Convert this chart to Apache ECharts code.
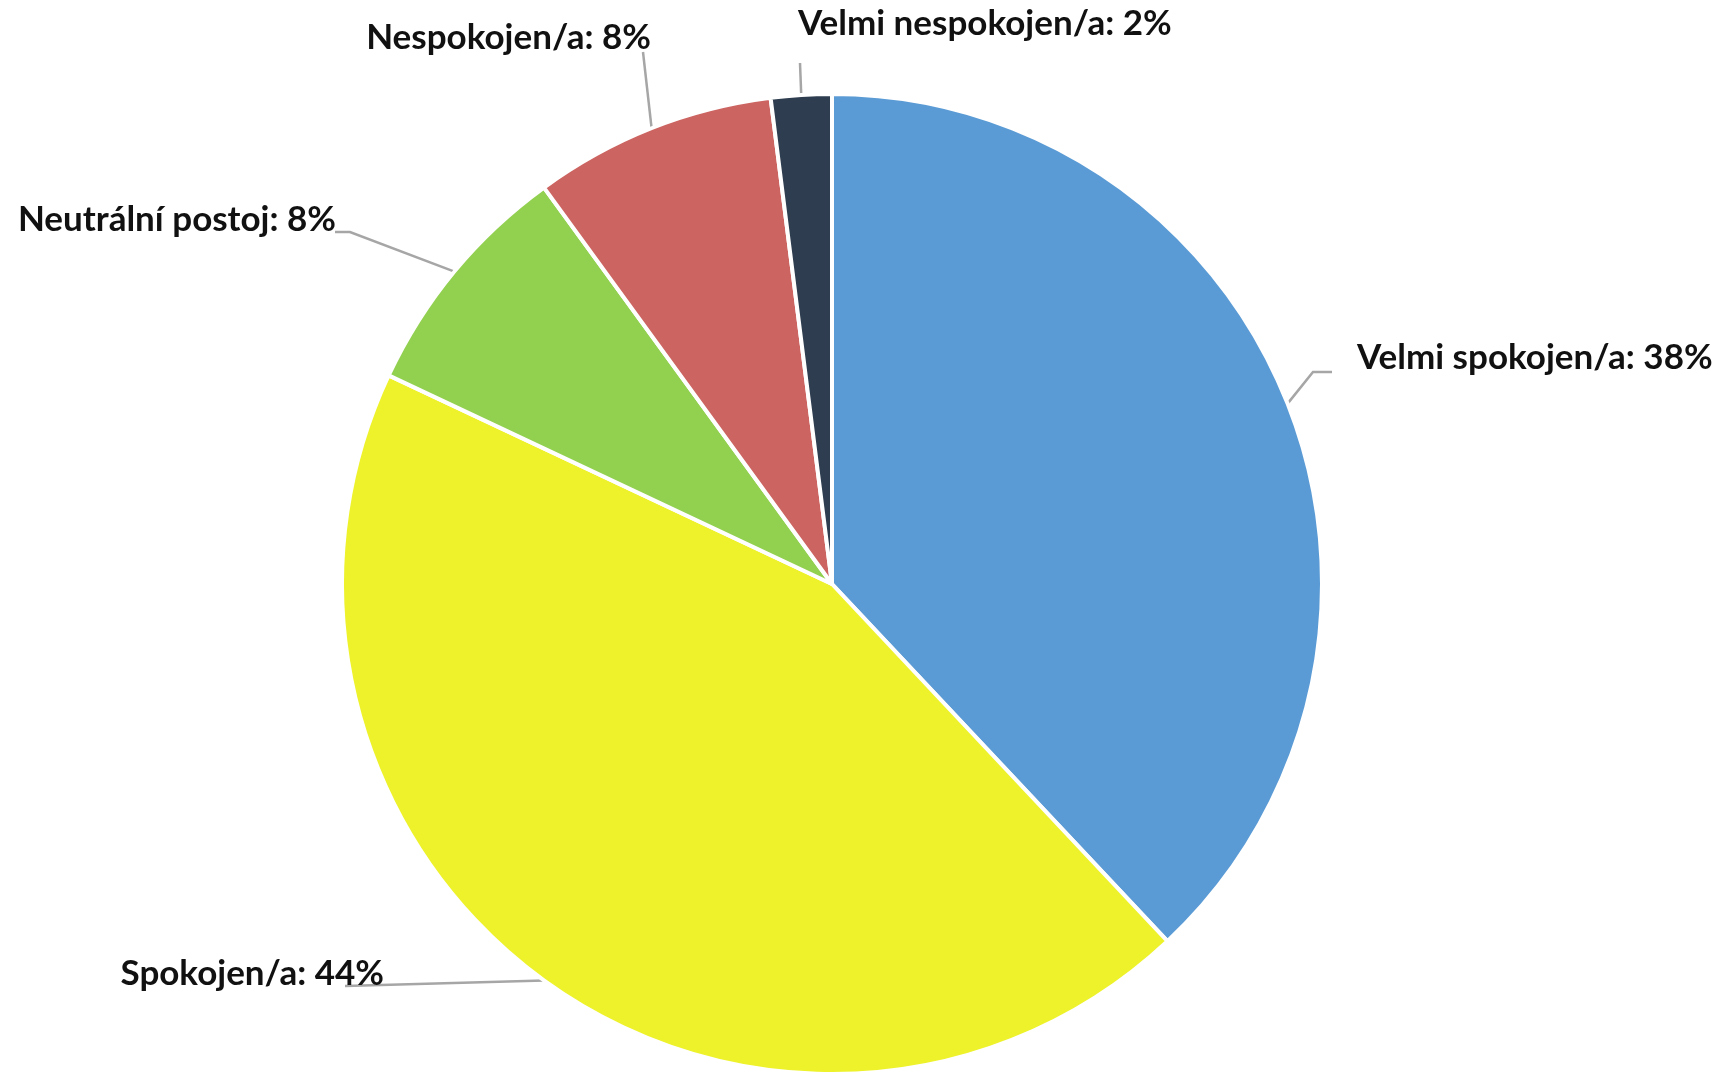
<!DOCTYPE html>
<html>
<head>
<meta charset="utf-8">
<script src="https://cdn.jsdelivr.net/npm/echarts@6/dist/echarts.min.js"></script>
<style>
  html, body { margin: 0; padding: 0; background: #fff; }
  #chart { width: 1729px; height: 1078px; }
</style>
</head>
<body>
<div id="chart"></div>
<script>
// data (percent)
var categories = ['Velmi spokojen/a', 'Spokojen/a', 'Neutrální postoj', 'Nespokojen/a', 'Velmi nespokojen/a']
var shares = [38, 44, 8, 8, 2]
var colors = ['#5B9BD5', '#EDF22B', '#92D050', '#CC6461', '#2E3D4F']

// where Excel put each label (px), and the bend of its leader line
var labelSpots = [
  { x: 1357, y: 358, align: 'left', line: [[1313, 372], [1332, 372]] },
  { x: 384, y: 974, align: 'right', line: [[345, 986]] },
  { x: 336, y: 220, align: 'right', line: [[350, 232], [335, 232]] },
  { x: 651, y: 38, align: 'right', line: [[643, 52]] },
  { x: 798, y: 24, align: 'left', line: [[800, 63]] }
]

var chart = echarts.init(document.getElementById('chart'))

chart.setOption({
  backgroundColor: '#fff',
  animation: false,
  series: [{
    type: 'pie',
    center: [832, 584],
    radius: 490,
    startAngle: 90,
    clockwise: true,
    avoidLabelOverlap: false,
    itemStyle: {
      borderColor: '#fff',
      borderWidth: 4
    },
    label: {
      show: true,
      position: 'outside',
      formatter: '{b}: {c}%',
      fontFamily: 'Lato',
      fontWeight: 'bold',
      fontSize: 35,
      color: '#111'
    },
    labelLine: {
      show: true,
      length: 20,
      length2: 20,
      lineStyle: {
        color: '#A6A6A6',
        width: 2.5
      }
    },
    labelLayout: function (params) {
      var spot = labelSpots[params.dataIndex]
      var pts = params.labelLinePoints
      var start = pts && pts.length ? pts[0] : spot.line[0]
      return {
        x: spot.x,
        y: spot.y,
        align: spot.align,
        verticalAlign: 'middle',
        labelLinePoints: [start].concat(spot.line)
      }
    },
    data: categories.map(function (name, i) {
      return { name: name, value: shares[i], itemStyle: { color: colors[i] } }
    })
  }]
})
</script>
</body>
</html>
